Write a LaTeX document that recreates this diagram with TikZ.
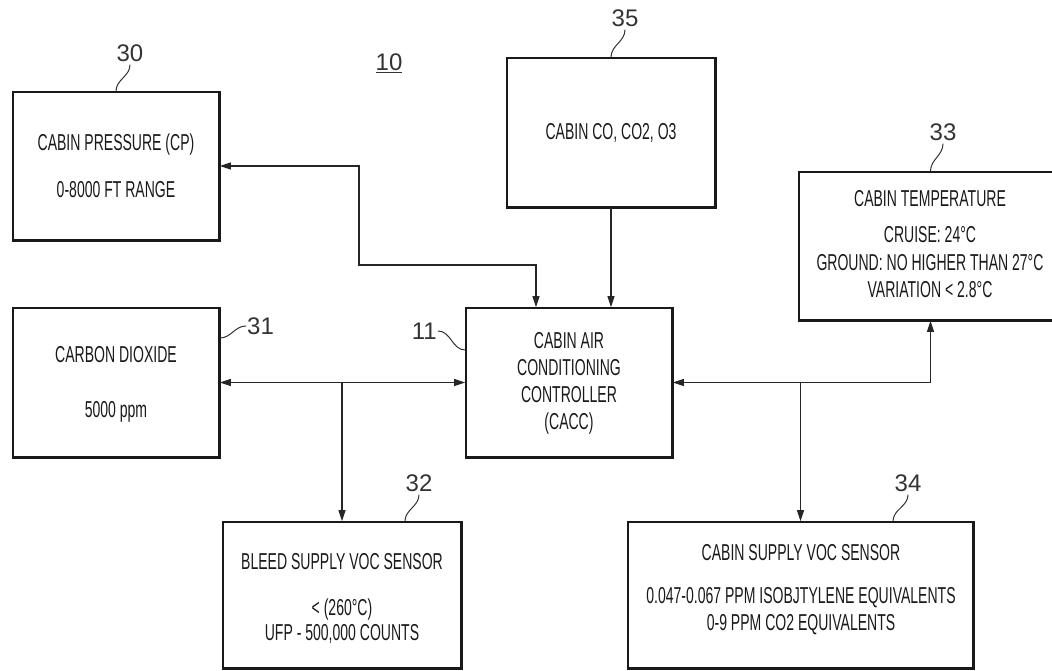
\documentclass[tikz,border=0pt]{standalone}
\usepackage{fontspec}
\setmainfont{Liberation Sans}[FakeStretch=0.61]
\newfontfamily\numfont{Liberation Sans}
\usetikzlibrary{arrows.meta,calc}
\begin{document}
\begin{tikzpicture}[x=1pt,y=-1pt,
  box/.style={draw=black!90, line width=1.6pt, inner sep=0pt},
  txt/.style={anchor=base, inner sep=0pt, font=\fontsize{23}{26}\selectfont, text=black!90},
  num/.style={inner sep=0pt, font=\numfont\fontsize{24}{27}\selectfont, text=black!80},
  conn/.style={line width=1.2pt, draw=black!85},
  arr/.style={conn, -{Triangle[length=11pt,width=7pt]}},
  darr/.style={conn, {Triangle[length=11pt,width=7pt]}-{Triangle[length=11pt,width=7pt]}},
  lead/.style={line width=1pt, draw=black!80}
]
\useasboundingbox (0,0) rectangle (1052,671);
\clip (0,0) rectangle (1052,671);

% boxes
\node[box, minimum width=206pt, minimum height=148pt] (b30) at (116,166) {};
\node[box, minimum width=208pt, minimum height=149pt] (b35) at (611,132.5) {};
\node[box, minimum width=263pt, minimum height=148pt] (b33) at (930.5,246) {};
\node[box, minimum width=206pt, minimum height=149pt] (b31) at (116,382.5) {};
\node[box, minimum width=206pt, minimum height=149pt] (cacc) at (569,382.5) {};
\node[box, minimum width=238pt, minimum height=146pt] (b32) at (342,595) {};
\node[box, minimum width=345pt, minimum height=146pt] (b34) at (800.5,595) {};

\foreach \n in {b30,b35,b33,b31,cacc,b32,b34}
  \draw[line width=2.6pt, black!90] (\n.north east) -- (\n.south east) -- (\n.south west);

% texts
\node[txt] (t30a) at (116,151) {CABIN PRESSURE (CP)};
\node[txt] (t30b) at (116,198) {0-8000 FT RANGE};
\node[txt] (t35) at (611,140) {CABIN CO, CO2, O3};
\node[txt] (t33a) at (930,207) {CABIN TEMPERATURE};
\node[txt] (t33b) at (930,242) {CRUISE: 24°C};
\node[txt] (t33c) at (930,270) {GROUND: NO HIGHER THAN 27°C};
\node[txt] (t33d) at (930,297) {VARIATION < 2.8°C};
\node[txt] (t31a) at (116,362) {CARBON DIOXIDE};
\node[txt] (t31b) at (116,417) {5000 ppm};
\node[txt] (tca) at (569,348) {CABIN AIR};
\node[txt] (tcb) at (569,375) {CONDITIONING};
\node[txt] (tcc) at (569,402) {CONTROLLER};
\node[txt] (tcd) at (569,429) {(CACC)};
\node[txt] (t32a) at (342,569) {BLEED SUPPLY VOC SENSOR};
\node[txt] (t32b) at (342,615) {< (260°C)};
\node[txt] (t32c) at (342,640) {UFP - 500,000 COUNTS};
\node[txt] (t34a) at (801,560) {CABIN SUPPLY VOC SENSOR};
\node[txt] (t34b) at (801,603) {0.047-0.067 PPM ISOBJTYLENE EQUIVALENTS};
\node[txt] (t34c) at (801,630) {0-9 PPM CO2 EQUIVALENTS};

% reference numerals
\node[num] (l30) at (130,53) {30};
\node[num] (l35) at (625,18) {35};
\node[num] (l33) at (943,132) {33};
\node[num, anchor=west] (l31) at (247,326) {31};
\node[num, anchor=east] (l11) at (437,331) {11};
\node[num] (l32) at (419,483) {32};
\node[num] (l34) at (908,483) {34};
\node[num] (l10) at (389,63) {\underline{10}};

\draw[lead] ([yshift=-3pt]l30.south) to[out=-90,in=90] (b30.north);
\draw[lead] ([yshift=-3pt]l35.south) to[out=-90,in=90] (b35.north);
\draw[lead] ([yshift=-3pt]l33.south) to[out=-90,in=90] (b33.north);
\draw[lead] ([yshift=-3pt]l32.south) to[out=-90,in=90] ([xshift=63pt]b32.north);
\draw[lead] ([yshift=-3pt]l34.south) to[out=-90,in=90] ([xshift=92.5pt]b34.north);
\draw[lead] ([xshift=-1pt]l31.west) to[out=180,in=0] ([yshift=44.5pt]b31.east);
\draw[lead] ([xshift=1pt]l11.east) to[out=0,in=180] ([yshift=32.5pt]cacc.west);

% connectors
\coordinate (j1) at (359,265);
\draw[darr] (b30.east) -| (j1) -| ([xshift=-33pt]cacc.north);
\draw[arr] (b35.south) -- (b35.south |- cacc.north);
\draw[darr] (b31.east) -- (cacc.west);
\draw[arr] (b32.north |- cacc.west) -- (b32.north);
\draw[darr] (cacc.east) -| (b33.south);
\draw[arr] (b34.north |- cacc.east) -- (b34.north);
\end{tikzpicture}
\end{document}
